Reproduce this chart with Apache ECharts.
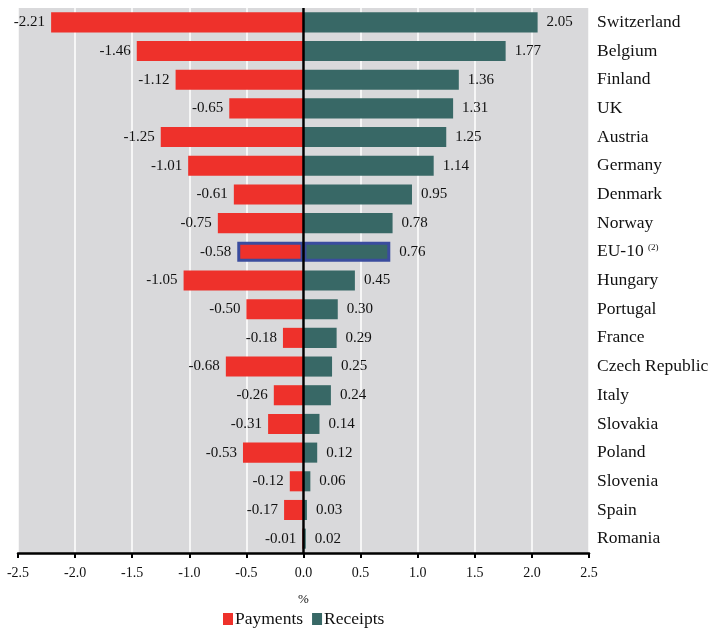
<!DOCTYPE html>
<html>
<head>
<meta charset="utf-8">
<script src="https://cdn.jsdelivr.net/npm/echarts@6/dist/echarts.min.js"></script>
<style>html,body{margin:0;padding:0;background:#fff;}#c{width:713px;height:631px;}</style>
</head>
<body>
<div id="c"></div>
<script>
var categories = ['Switzerland','Belgium','Finland','UK','Austria','Germany','Denmark','Norway','EU-10','Hungary','Portugal','France','Czech Republic','Italy','Slovakia','Poland','Slovenia','Spain','Romania'];
var payments = [-2.21,-1.46,-1.12,-0.65,-1.25,-1.01,-0.61,-0.75,-0.58,-1.05,-0.50,-0.18,-0.68,-0.26,-0.31,-0.53,-0.12,-0.17,-0.01];
var receipts = [2.05,1.77,1.36,1.31,1.25,1.14,0.95,0.78,0.76,0.45,0.30,0.29,0.25,0.24,0.14,0.12,0.06,0.03,0.02];
var highlighted = 'EU-10';

var FONT = '"Liberation Serif", "DejaVu Serif", serif';
var RED = '#EE312B', TEAL = '#386866', BLUE = '#3A4C9E';

function mk(vals) {
  return vals.map(function (v, i) {
    var d = { value: v };
    if (categories[i] === highlighted) d.itemStyle = { borderColor: BLUE, borderWidth: 3 };
    return d;
  });
}

var chart = echarts.init(document.getElementById('c'));
chart.setOption({
  animation: false,
  textStyle: { fontFamily: FONT },
  grid: { left: 18, right: 124, top: 8, bottom: 78, show: true, backgroundColor: '#D9D9DB', borderWidth: 0 },
  legend: {
    top: 605, left: 218, itemWidth: 10, itemHeight: 12, itemGap: 9,
    icon: 'rect',
    textStyle: { fontFamily: FONT, fontSize: 17.5, color: '#111', padding: [0, 0, 0, -3] },
    data: ['Payments', 'Receipts']
  },
  xAxis: {
    type: 'value', min: -2.5, max: 2.5, interval: 0.5,
    name: '%', nameLocation: 'middle', nameGap: 40,
    nameTextStyle: { fontFamily: FONT, fontSize: 13, color: '#111' },
    axisLine: { show: true, onZero: false, lineStyle: { color: '#000', width: 2.5 } },
    axisTick: { show: true, length: 5, lineStyle: { color: '#000', width: 2 } },
    axisLabel: { fontFamily: FONT, fontSize: 14, color: '#111', margin: 13, formatter: function (v) { return v.toFixed(1); } },
    splitLine: { show: true, lineStyle: { color: '#FFFFFF', width: 1.5 } }
  },
  yAxis: {
    type: 'category', data: categories, inverse: true, position: 'right',
    axisLine: { show: false, onZero: false },
    axisTick: { show: false },
    splitLine: { show: false },
    axisLabel: {
      fontFamily: FONT, fontSize: 17.5, color: '#111', margin: 8, align: 'left',
      formatter: function (v) { return v === highlighted ? v + ' {sup|(2)}' : v; },
      rich: { sup: { fontFamily: FONT, fontSize: 9, color: '#111', verticalAlign: 'top', padding: [0, 0, 8, 0] } }
    }
  },
  series: [
    {
      name: 'Payments', type: 'bar', data: mk(payments), barWidth: '70%', barGap: '-100%',
      itemStyle: { color: RED },
      label: { show: true, position: 'left', distance: 6, fontFamily: FONT, fontSize: 15, color: '#111', formatter: function (p) { return p.value.toFixed(2); } },
      markLine: {
        silent: true, symbol: 'none', label: { show: false },
        lineStyle: { color: '#000', width: 2.5, type: 'solid' },
        data: [{ xAxis: 0 }]
      },
      z: 2
    },
    {
      name: 'Receipts', type: 'bar', data: mk(receipts), barWidth: '70%', barGap: '-100%',
      itemStyle: { color: TEAL },
      label: { show: true, position: 'right', distance: 9, fontFamily: FONT, fontSize: 15, color: '#111', formatter: function (p) { return p.value.toFixed(2); } },
      z: 2
    }
  ]
});
</script>
</body>
</html>
